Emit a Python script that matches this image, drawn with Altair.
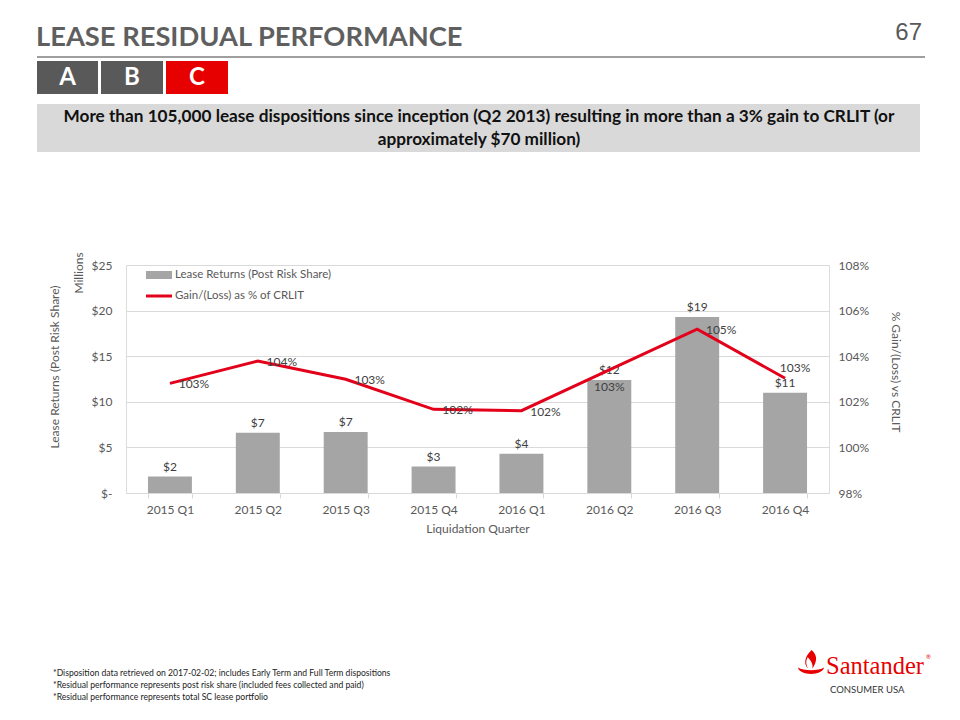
import altair as alt
import pandas as pd

# ---------------- data ----------------
quarters = ["2015 Q1", "2015 Q2", "2015 Q3", "2015 Q4",
            "2016 Q1", "2016 Q2", "2016 Q3", "2016 Q4"]
lease_returns = [1.8, 6.6, 6.7, 2.9, 4.3, 12.4, 19.3, 11.0]          # $ millions
gain_pct = [1.0281, 1.0379, 1.0299, 1.0167, 1.0161, 1.0340, 1.0519, 1.0303]
left_ticks = [0, 5, 10, 15, 20, 25]
right_ticks = [0.98, 1.00, 1.02, 1.04, 1.06, 1.08]

df = pd.DataFrame({"Quarter": quarters, "Returns": lease_returns, "Gain": gain_pct})
one = pd.DataFrame({"v": [0]})

# ---------------- layout ----------------
W, H = 703, 228
OX, OY = 126, 265          # page position of plot origin
FONT = "Lato"
GREY_TXT = "#595959"
BAR = "#a5a5a5"
RED = "#e2001a"

x_enc = alt.X(
    "Quarter:N", sort=quarters, title="Liquidation Quarter",
    scale=alt.Scale(paddingInner=0.5, paddingOuter=0.25),
    axis=alt.Axis(labelAngle=0, domainColor="#d9d9d9", tickColor="#d9d9d9",
                  tickBand="extent", tickSize=5, labelPadding=6, titlePadding=8,
                  labelFont=FONT, labelFontSize=12, labelColor=GREY_TXT,
                  titleFont=FONT, titleFontSize=12, titleColor=GREY_TXT,
                  titleFontWeight="normal"))

y_left = alt.Y(
    "Returns:Q", scale=alt.Scale(domain=[0, 25]),
    axis=alt.Axis(values=left_ticks, title=None, domain=False, ticks=False,
                  labelExpr="datum.value == 0 ? '$-' : '$' + datum.value",
                  gridColor="#d9d9d9", labelPadding=14, labelFont=FONT,
                  labelFontSize=12, labelColor=GREY_TXT))

y_right = alt.Y(
    "Gain:Q", scale=alt.Scale(domain=[0.98, 1.08]),
    axis=alt.Axis(orient="right", values=right_ticks, format=".0%", title=None,
                  grid=False, domain=False, ticks=False, labelPadding=9,
                  labelFont=FONT, labelFontSize=12, labelColor=GREY_TXT))

base = alt.Chart(df)
bars = base.mark_bar(color=BAR).encode(x=x_enc, y=y_left)
bar_text = base.mark_text(dy=-10, font=FONT, fontSize=12, color="#404040").encode(
    x=x_enc, y=y_left, text=alt.Text("Returns:Q", format="$.0f"))
line = base.mark_line(color=RED, strokeWidth=3).encode(x=x_enc, y=y_right)

label_text = alt.Text("Gain:Q", format=".0%")
line_text_main = base.transform_filter(
    "datum.Quarter != '2016 Q2' && datum.Quarter != '2016 Q4'"
).mark_text(dx=24, dy=1, font=FONT, fontSize=12, color="#404040").encode(
    x=x_enc, y=y_right, text=label_text)
line_text_below = base.transform_filter("datum.Quarter == '2016 Q2'").mark_text(
    dx=0, dy=17, font=FONT, fontSize=12, color="#404040").encode(
    x=x_enc, y=y_right, text=label_text)
line_text_above = base.transform_filter("datum.Quarter == '2016 Q4'").mark_text(
    dx=10, dy=-10, font=FONT, fontSize=12, color="#404040").encode(
    x=x_enc, y=y_right, text=label_text)

bars_group = alt.layer(bars, bar_text)
line_group = alt.layer(line, line_text_main, line_text_below, line_text_above)


# ---------------- decoration helpers ----------------
def txt(s, x, y, size, color=GREY_TXT, weight="normal", align="left",
        font=FONT, angle=0, baseline="middle", line_height=None):
    kw = dict(text=s, fontSize=size, color=color, fontWeight=weight, align=align,
              font=font, angle=angle, baseline=baseline)
    if line_height is not None:
        kw["lineHeight"] = line_height
    return alt.Chart(one).mark_text(**kw).encode(x=alt.value(x - OX), y=alt.value(y - OY))


def rect(x1, y1, x2, y2, color):
    return alt.Chart(one).mark_rect(color=color).encode(
        x=alt.value(x1 - OX), x2=alt.value(x2 - OX),
        y=alt.value(y1 - OY), y2=alt.value(y2 - OY))


def hline(x1, x2, y, color, w):
    return alt.Chart(one).mark_rule(color=color, strokeWidth=w).encode(
        x=alt.value(x1 - OX), x2=alt.value(x2 - OX), y=alt.value(y - OY))


flame_path = ("M-1,0.35 C-0.9,1 0.9,1 1,0.35 C0.6,0.62 -0.6,0.62 -1,0.35 Z "
              "M0.05,-1 C0.55,-0.55 0.45,-0.1 0.1,0.45 C0.2,0.05 -0.05,-0.25 -0.25,-0.45 "
              "C-0.45,-0.1 -0.35,0.2 -0.2,0.45 C-0.6,0.1 -0.5,-0.5 0.05,-1 Z")

decor = [
    # header
    txt("LEASE RESIDUAL PERFORMANCE", 36, 46, 27.3, color="#5f5f5f", weight="bold",
        baseline="alphabetic"),
    txt("67", 922, 33, 24, color=GREY_TXT, align="right", font="Liberation Sans"),
    hline(37, 925, 57, "#7f7f7f", 1.5),
    # tabs
    rect(37, 61, 98, 94, "#595959"),
    rect(101, 61, 163, 94, "#595959"),
    rect(166, 61, 228, 94, "#e60000"),
    txt("A", 67.5, 78, 24, color="white", weight="bold", align="center"),
    txt("B", 132, 78, 24, color="white", weight="bold", align="center"),
    txt("C", 197, 78, 24, color="white", weight="bold", align="center"),
    # banner
    rect(37, 104, 920, 152, "#d9d9d9"),
    txt(["More than 105,000 lease dispositions since inception (Q2 2013) resulting in more than a 3% gain to CRLIT (or",
         "approximately $70 million)"], 479, 117, 17.2, color="#111111", weight="bold",
        align="center", line_height=23),
    # axis titles
    txt("Lease Returns (Post Risk Share)", 55, 367, 12, angle=270, align="center"),
    txt("Millions", 79, 273, 12, angle=270, align="center"),
    txt("% Gain/(Loss) vs CRLIT", 896, 372, 12, angle=90, align="center"),
    # legend
    rect(146, 271, 172, 279, BAR),
    txt("Lease Returns (Post Risk Share)", 175, 275, 11.5),
    hline(146, 172, 296, RED, 3),
    txt("Gain/(Loss) as % of CRLIT", 175, 296, 11.5),
    # footnotes
    txt(["*Disposition data retrieved on 2017-02-02; includes Early Term and Full Term dispositions",
         "*Residual performance represents post risk share (included fees collected and paid)",
         "*Residual performance represents total SC lease portfolio"],
        53, 673, 8.6, color="#222222", line_height=12),
    # logo
    alt.Chart(one).mark_point(shape=flame_path, filled=True, color="#e60000", size=680,
                              opacity=1).encode(x=alt.value(811 - OX), y=alt.value(663 - OY)),
    txt("Santander", 826, 674, 24.5, color="#e60000", font="Liberation Serif",
        baseline="alphabetic"),
    txt("®", 926, 657, 6, color="#e60000"),
    txt("CONSUMER USA", 830, 690, 9.5, color="#333333"),
]

chart = alt.layer(bars_group, line_group, *decor).resolve_scale(y="independent").properties(
    width=W, height=H,
    autosize=alt.AutoSizeParams(type="none"),
    padding={"left": OX - 8, "top": OY - 8, "right": 944 - (OX - 8) - W,
             "bottom": 704 - (OY - 8) - H},
).configure_view(stroke=None).configure(background="white")

chart.save("out.html", embed_options={"renderer": "svg", "actions": False})
